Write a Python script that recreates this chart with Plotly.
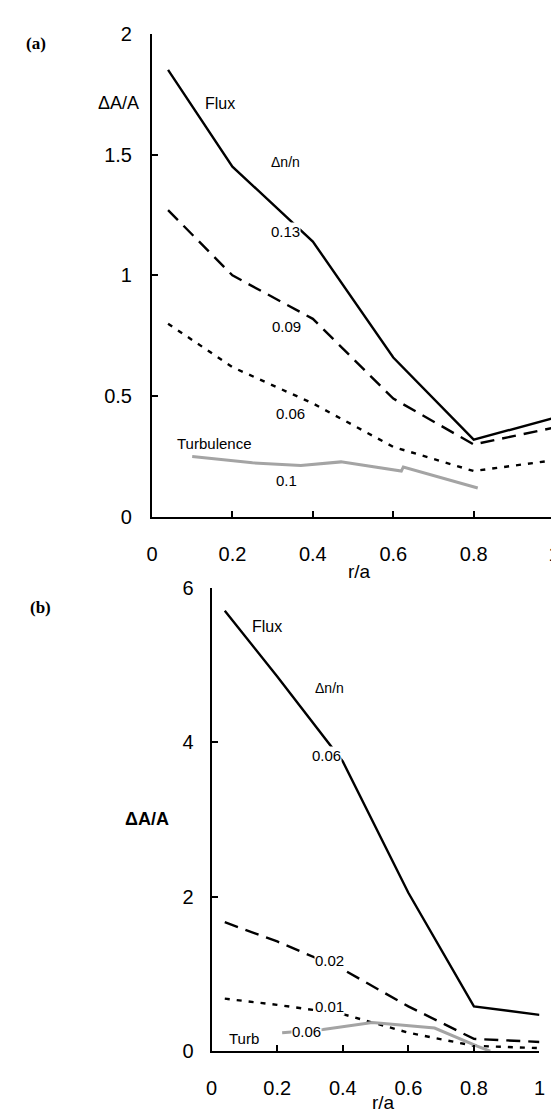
import plotly.graph_objects as go

# ---------------- data: panel (a) ----------------
a_flux_x = [0.04, 0.2, 0.4, 0.6, 0.8, 1.0]
a_flux_y = [1.85, 1.45, 1.14, 0.66, 0.32, 0.41]
a_n09_x = [0.04, 0.2, 0.4, 0.6, 0.8, 1.0]
a_n09_y = [1.27, 1.00, 0.82, 0.49, 0.30, 0.37]
a_n06_x = [0.04, 0.2, 0.4, 0.6, 0.8, 1.0]
a_n06_y = [0.80, 0.62, 0.47, 0.29, 0.19, 0.235]
a_turb_x = [0.10, 0.25, 0.37, 0.47, 0.62, 0.625, 0.81]
a_turb_y = [0.25, 0.224, 0.213, 0.228, 0.19, 0.207, 0.12]

# ---------------- data: panel (b) ----------------
b_flux_x = [0.04, 0.2, 0.4, 0.6, 0.8, 1.0]
b_flux_y = [5.70, 4.85, 3.75, 2.05, 0.58, 0.47]
b_n02_x = [0.04, 0.2, 0.4, 0.6, 0.8, 1.0]
b_n02_y = [1.67, 1.42, 1.06, 0.58, 0.16, 0.12]
b_n01_x = [0.04, 0.2, 0.4, 0.6, 0.8, 1.0]
b_n01_y = [0.68, 0.60, 0.48, 0.24, 0.07, 0.04]
b_turb_x = [0.215, 0.34, 0.49, 0.68, 0.81, 0.85]
b_turb_y = [0.24, 0.28, 0.37, 0.30, 0.065, 0.0]

a_xticks = [0, 0.2, 0.4, 0.6, 0.8, 1]
a_xtext = ["0", "0.2", "0.4", "0.6", "0.8", "1"]
a_yticks = [0, 0.5, 1, 1.5, 2]
a_ytext = ["0", "0.5", "1", "1.5", "2"]
b_yticks = [0, 2, 4, 6]
b_ytext = ["0", "2", "4", "6"]

FONT = "Liberation Sans, Arial, sans-serif"
W, H = 559, 1115

def px_x(p):
    return p / W

def px_y(p):
    return 1 - p / H

fig = go.Figure()

solid = dict(color="black", width=2.4)
dashed = dict(color="black", width=2.4, dash="14px,8px")
dotted = dict(color="black", width=2.4, dash="5px,7px")
gray = dict(color="#a4a4a4", width=3)

fig.add_trace(go.Scatter(x=a_flux_x, y=a_flux_y, mode="lines", line=solid, xaxis="x", yaxis="y"))
fig.add_trace(go.Scatter(x=a_n09_x, y=a_n09_y, mode="lines", line=dashed, xaxis="x", yaxis="y"))
fig.add_trace(go.Scatter(x=a_n06_x, y=a_n06_y, mode="lines", line=dotted, xaxis="x", yaxis="y"))
fig.add_trace(go.Scatter(x=a_turb_x, y=a_turb_y, mode="lines", line=gray, xaxis="x", yaxis="y"))

fig.add_trace(go.Scatter(x=b_flux_x, y=b_flux_y, mode="lines", line=solid, xaxis="x2", yaxis="y2"))
fig.add_trace(go.Scatter(x=b_n02_x, y=b_n02_y, mode="lines", line=dashed, xaxis="x2", yaxis="y2"))
fig.add_trace(go.Scatter(x=b_n01_x, y=b_n01_y, mode="lines", line=dotted, xaxis="x2", yaxis="y2"))
fig.add_trace(go.Scatter(x=b_turb_x, y=b_turb_y, mode="lines", line=gray, xaxis="x2", yaxis="y2"))

axis_common = dict(
    showline=True, linecolor="black", linewidth=2,
    ticks="inside", ticklen=6, tickwidth=1.5, tickcolor="black",
    showgrid=False, zeroline=False,
    tickfont=dict(family=FONT, size=20, color="black"),
    fixedrange=True,
)

fig.update_layout(
    width=W, height=H,
    margin=dict(l=0, r=0, t=0, b=0),
    paper_bgcolor="white", plot_bgcolor="white",
    showlegend=False,
    xaxis=dict(axis_common, domain=[px_x(141), px_x(552)], range=[0, 1],
               tickvals=a_xticks, ticktext=a_xtext, anchor="y", ticklabelstandoff=18),
    yaxis=dict(axis_common, domain=[px_y(508), px_y(15)], range=[0, 2],
               tickvals=a_yticks, ticktext=a_ytext, anchor="x", ticklabelstandoff=14),
    xaxis2=dict(axis_common, domain=[px_x(202), px_x(537)], range=[0, 1],
                tickvals=a_xticks, ticktext=a_xtext, anchor="y2", ticklabelstandoff=18),
    yaxis2=dict(axis_common, domain=[px_y(1053), px_y(580)], range=[0, 6],
                tickvals=b_yticks, ticktext=b_ytext, anchor="x2", ticklabelstandoff=12),
)

def ann(text, x, y, xref, yref, size=15, bg=None, bold=False, family=FONT, xanchor="center"):
    d = dict(text=("<b>%s</b>" % text) if bold else text, x=x, y=y, xref=xref, yref=yref,
             showarrow=False, font=dict(family=family, size=size, color="black"),
             xanchor=xanchor, yanchor="middle")
    if bg:
        d["bgcolor"] = bg
        d["borderpad"] = 0
    fig.add_annotation(**d)

# panel (a) labels
ann("(a)", px_x(22), px_y(25), "paper", "paper", size=17, bold=True, family="Liberation Serif, Times New Roman, serif")
ann("ΔA/A", px_x(107), px_y(86), "paper", "paper", size=18)
ann("r/a", px_x(353), px_y(564), "paper", "paper", size=19)
ann("Flux", 0.17, 1.71, "x", "y", size=16)
ann("Δn/n", 0.333, 1.47, "x", "y", size=14)
ann("0.13", 0.333, 1.18, "x", "y", size=15, bg="white")
ann("0.09", 0.335, 0.787, "x", "y", size=15)
ann("0.06", 0.344, 0.427, "x", "y", size=15)
ann("Turbulence", 0.155, 0.304, "x", "y", size=15)
ann("0.1", 0.335, 0.149, "x", "y", size=15)

# panel (b) labels
ann("(b)", px_x(27), px_y(600), "paper", "paper", size=17, bold=True, family="Liberation Serif, Times New Roman, serif")
ann("ΔA/A", px_x(136), 3.0, "paper", "y2", size=18, bold=True)
ann("r/a", px_x(378), px_y(1105), "paper", "paper", size=19)
ann("Flux", 0.17, 5.5, "x2", "y2", size=16)
ann("Δn/n", 0.36, 4.7, "x2", "y2", size=14)
ann("0.06", 0.35, 3.83, "x2", "y2", size=15, bg="white")
ann("0.02", 0.36, 1.18, "x2", "y2", size=15, bg="white")
ann("0.01", 0.36, 0.58, "x2", "y2", size=15, bg="white")
ann("Turb", 0.098, 0.16, "x2", "y2", size=15)
ann("0.06", 0.29, 0.25, "x2", "y2", size=15, bg="white")

fig.write_html("out.html")
